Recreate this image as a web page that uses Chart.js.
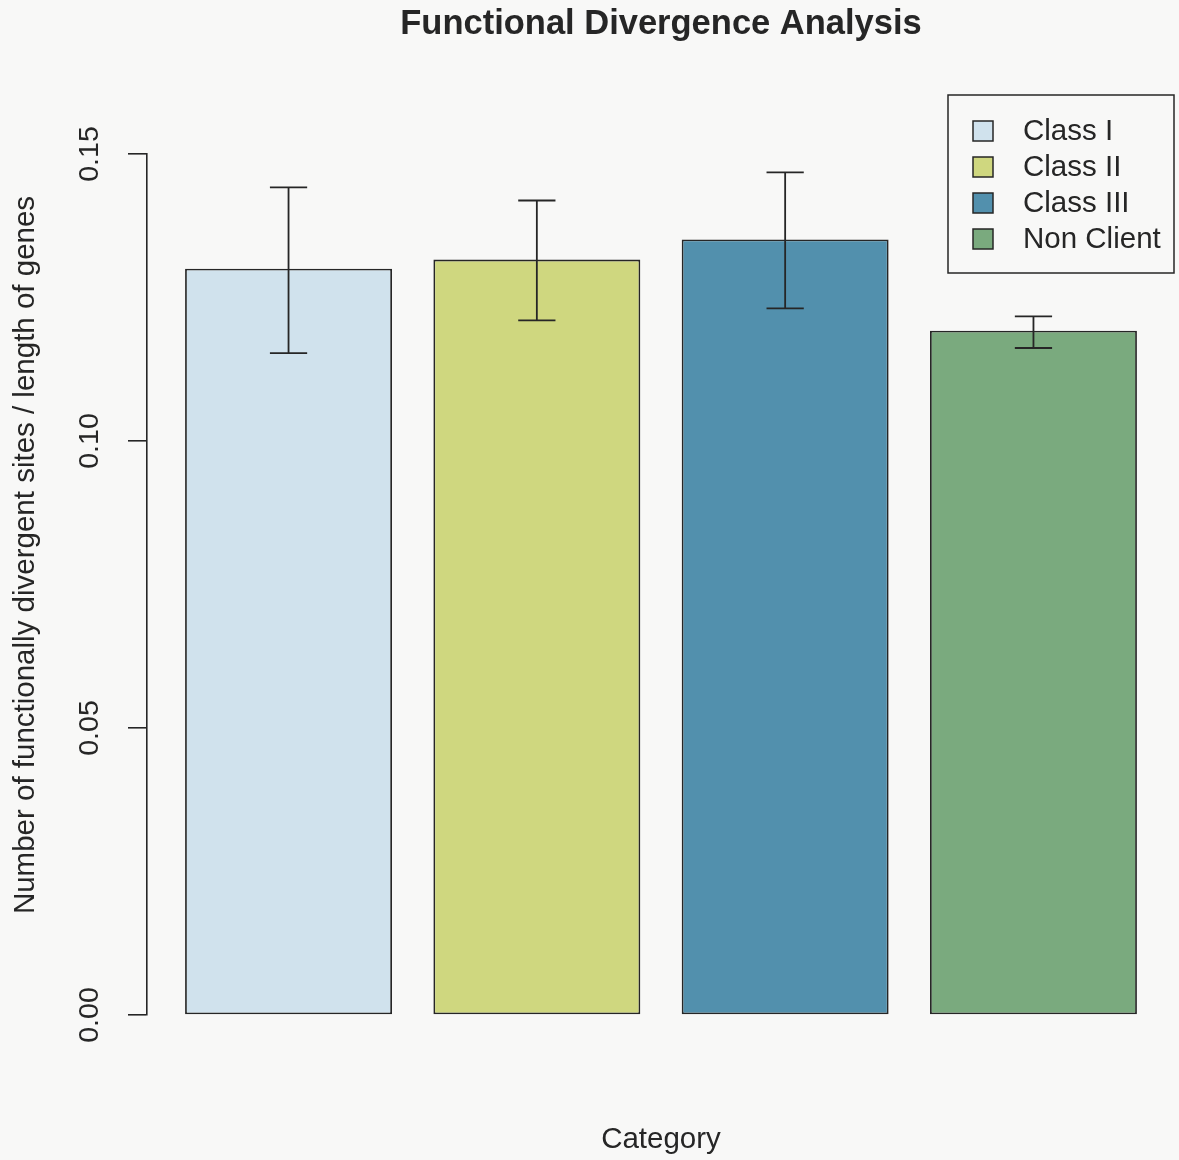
<!DOCTYPE html>
<html>
<head>
<meta charset="utf-8">
<script src="https://cdn.jsdelivr.net/npm/chart.js@4/dist/chart.umd.min.js"></script>
<style>
  html, body { margin: 0; padding: 0; background: #f8f8f7; }
  #wrap { width: 1179px; height: 1160px; position: relative; }
</style>
</head>
<body>
<div id="wrap"><canvas id="c" width="1179" height="1160"></canvas></div>
<script>
// Mean ratio of functionally divergent sites to gene length, per client class
const categories = ['Class I', 'Class II', 'Class III', 'Non Client'];
const means      = [0.1300, 0.1316, 0.1351, 0.1192];
const errLow     = [0.1153, 0.1210, 0.1231, 0.1162];
const errHigh    = [0.1442, 0.1419, 0.1468, 0.1217];
const barColors  = ['#d0e2ed', '#cfd77f', '#5290ad', '#7aaa7e'];
const yTicks     = [0, 0.05, 0.10, 0.15];

const titleText = 'Functional Divergence Analysis';
const xTitle = 'Category';
const yTitle = 'Number of functionally divergent sites / length of genes';

// barplot-style layout: unit-width bars separated by a 0.2 gap
const barWidth = 1, barSpace = 0.2;
const centers = categories.map((_, i) => barSpace + barWidth / 2 + i * (barWidth + barSpace));
const xLo = barSpace, xHi = categories.length * (barWidth + barSpace);
const xPad = (xHi - xLo) * 0.04;

const FONT = '"Liberation Sans", Arial, Helvetica, sans-serif';
const INK = '#262626';

const errorBars = {
  id: 'errorBars',
  afterDatasetsDraw(chart) {
    const ctx = chart.ctx, y = chart.scales.y;
    const meta = chart.getDatasetMeta(0);
    ctx.save();
    ctx.strokeStyle = INK;
    ctx.lineWidth = 1.8;
    meta.data.forEach((bar, i) => {
      const x = bar.x;
      const yl = y.getPixelForValue(errLow[i]);
      const yh = y.getPixelForValue(errHigh[i]);
      const cap = bar.width * 0.09;
      ctx.beginPath();
      ctx.moveTo(x, yl); ctx.lineTo(x, yh);
      ctx.moveTo(x - cap, yh); ctx.lineTo(x + cap, yh);
      ctx.moveTo(x - cap, yl); ctx.lineTo(x + cap, yl);
      ctx.stroke();
    });
    ctx.restore();
  }
};

const annotations = {
  id: 'annotations',
  afterDraw(chart) {
    const ctx = chart.ctx, area = chart.chartArea;
    const cx = (area.left + area.right) / 2;
    ctx.save();
    ctx.fillStyle = INK;
    ctx.textBaseline = 'middle';
    ctx.textAlign = 'center';

    ctx.font = 'bold 34.5px ' + FONT;
    ctx.fillText(titleText, cx, 24);

    ctx.font = '29.5px ' + FONT;
    ctx.fillText(xTitle, cx, 1140);

    ctx.save();
    ctx.translate(26, 555);
    ctx.rotate(-Math.PI / 2);
    ctx.fillText(yTitle, 0, 0);
    ctx.restore();

    // legend box
    const right = area.right - 1, top = 95, w = 226, h = 178;
    const left = right - w;
    ctx.lineWidth = 1.5;
    ctx.strokeStyle = INK;
    ctx.strokeRect(left, top, w, h);
    ctx.textAlign = 'left';
    categories.forEach((name, i) => {
      const yc = top + 36 + i * 36;
      ctx.fillStyle = barColors[i];
      ctx.fillRect(left + 25, yc - 10, 20, 20);
      ctx.strokeRect(left + 25, yc - 10, 20, 20);
      ctx.fillStyle = INK;
      ctx.fillText(name, left + 75, yc + 1);
    });
    ctx.restore();
  }
};

new Chart(document.getElementById('c'), {
  type: 'bar',
  data: {
    datasets: [{
      data: means.map((v, i) => ({ x: centers[i], y: v })),
      backgroundColor: barColors,
      borderColor: INK,
      borderWidth: 1.8,
      borderSkipped: false,
      categoryPercentage: 1,
      barPercentage: barWidth / (barWidth + barSpace)
    }]
  },
  options: {
    responsive: false,
    animation: false,
    devicePixelRatio: 1,
    layout: { padding: { top: 154, bottom: 145, left: 0, right: 4 } },
    plugins: { legend: { display: false }, tooltip: { enabled: false } },
    scales: {
      x: {
        type: 'linear',
        offset: false,
        min: xLo - xPad,
        max: xHi + xPad,
        display: false,
        afterBuildTicks: s => { s.ticks = centers.map(v => ({ value: v })); }
      },
      y: {
        min: 0,
        max: 0.15,
        afterBuildTicks: s => { s.ticks = yTicks.map(v => ({ value: v })); },
        afterFit: s => { s.width = 147; },
        ticks: {
          callback: v => Number(v).toFixed(2),
          font: { family: FONT, size: 28.5 },
          color: INK,
          minRotation: 90,
          maxRotation: 90,
          crossAlign: 'center',
          padding: 10,
          autoSkip: false
        },
        grid: { drawOnChartArea: false, drawTicks: true, tickLength: 19, color: INK, lineWidth: 1.6 },
        border: { display: true, color: INK, width: 1.6 }
      }
    }
  },
  plugins: [errorBars, annotations]
});
</script>
</body>
</html>
